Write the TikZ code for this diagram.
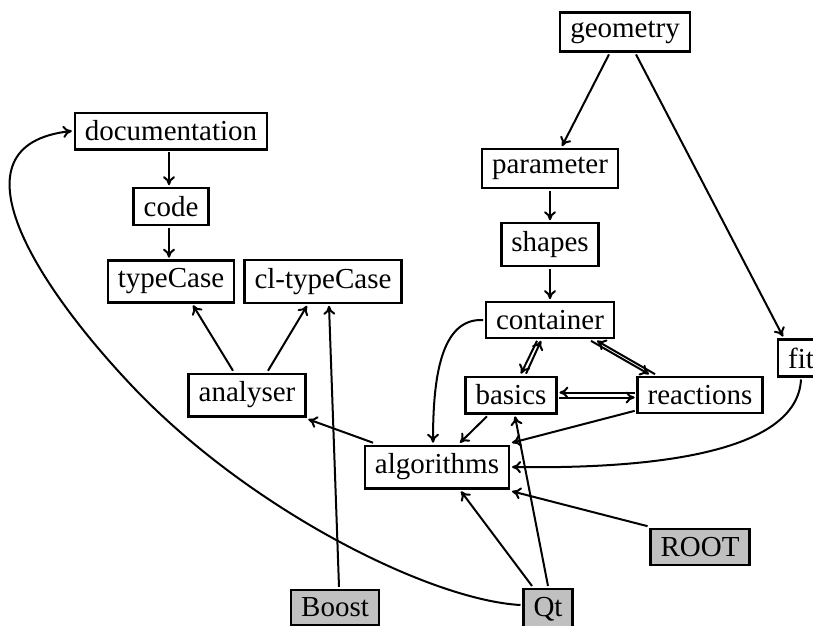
\documentclass[tikz,border=0pt]{standalone}
\usepackage{fontspec}
\setmainfont{Liberation Serif}
\usetikzlibrary{arrows.meta}
\definecolor{extgray}{RGB}{192,192,192}
\begin{document}
\begin{tikzpicture}[x=1pt,y=-1pt,
  box/.style={draw, line width=2.4pt, font=\fontsize{29}{35}\selectfont,
    inner xsep=10pt, inner ysep=8.1pt, outer sep=3pt},
  extbox/.style={box, fill=extgray},
  edge/.style={line width=2pt, -{To[length=9pt,width=12pt]}}]
\useasboundingbox (0,0) rectangle (813,625);
% nodes
\node[box] (geometry) at (625,32) {geometry};
\node[box] (documentation) at (171,131) {documentation};
\node[box] (code) at (171,206.5) {code};
\node[box] (typeCase) at (171,281.5) {typeCase};
\node[box] (cltypeCase) at (323,281.5) {cl-typeCase};
\node[box] (analyser) at (247,395) {analyser};
\node[box] (parameter) at (550,168.5) {parameter};
\node[box] (shapes) at (550,244.5) {shapes};
\node[box] (container) at (550,320) {container};
\node[box] (fit) at (801,358) {fit};
\node[box] (basics) at (511,395) {basics};
\node[box] (reactions) at (700,395) {reactions};
\node[box] (algorithms) at (437,467) {algorithms};
\node[extbox] (ROOT) at (700,547) {ROOT};
\node[extbox] (Boost) at (335,607.5) {Boost};
\node[extbox] (Qt) at (548,609) {Qt};
% edges
\draw[edge] ([xshift=-16pt]geometry.south) -- ([xshift=12pt]parameter.north);
\draw[edge] ([xshift=11pt]geometry.south) -- ([xshift=-18pt]fit.north);
\draw[edge] (parameter) -- (shapes);
\draw[edge] (shapes) -- (container);
\draw[edge] ([xshift=-2pt]documentation.south) -- ([xshift=-2pt]code.north);
\draw[edge] ([xshift=-2pt]code.south) -- ([xshift=-2pt]typeCase.north);
\draw[edge] ([xshift=-14pt]analyser.north) -- ([xshift=22pt]typeCase.south);
\draw[edge] ([xshift=21pt]analyser.north) -- ([xshift=-16pt]cltypeCase.south);
\draw[edge] ([xshift=4pt]Boost.north) -- ([xshift=6pt]cltypeCase.south);
\draw[edge] ([xshift=-64pt]algorithms.north) -- (analyser.south east);
% container <-> basics
\draw[edge] ([xshift=-13pt]container.south) -- ([xshift=10pt]basics.north);
\draw[edge] ([xshift=15pt]basics.north) -- ([xshift=-9pt]container.south);
% container <-> reactions
\draw[edge] ([xshift=-45pt]reactions.north) -- ([xshift=47pt]container.south);
\draw[edge] ([xshift=41pt]container.south) -- ([xshift=-51pt]reactions.north);
% basics <-> reactions
\draw[edge] ([yshift=2.5pt]reactions.west) -- ([yshift=2.5pt]basics.east);
\draw[edge] ([yshift=-2.5pt]basics.east) -- ([yshift=-2.5pt]reactions.west);
% into algorithms
\draw[edge] (container.west) .. controls (440,318) and (433,380) .. ([xshift=-4pt]algorithms.north);
\draw[edge] ([xshift=-24pt]basics.south) -- ([xshift=23pt]algorithms.north);
\draw[edge] ([yshift=5pt]reactions.south west) -- (algorithms.north east);
\draw[edge] (fit.south) .. controls (797,455) and (645,469) .. (algorithms.east);
\draw[edge] (ROOT.north west) -- (algorithms.south east);
\draw[edge] ([xshift=-16pt]Qt.north) -- ([xshift=24pt]algorithms.south);
\draw[edge] (Qt.north) -- ([xshift=4pt]basics.south);
% Qt -> documentation
\draw[edge] ([yshift=4pt]Qt.west) .. controls (430,600) and (250,510) .. (133,387)
  .. controls (38,287) and (-55,145) .. (documentation.west);
\end{tikzpicture}
\end{document}
